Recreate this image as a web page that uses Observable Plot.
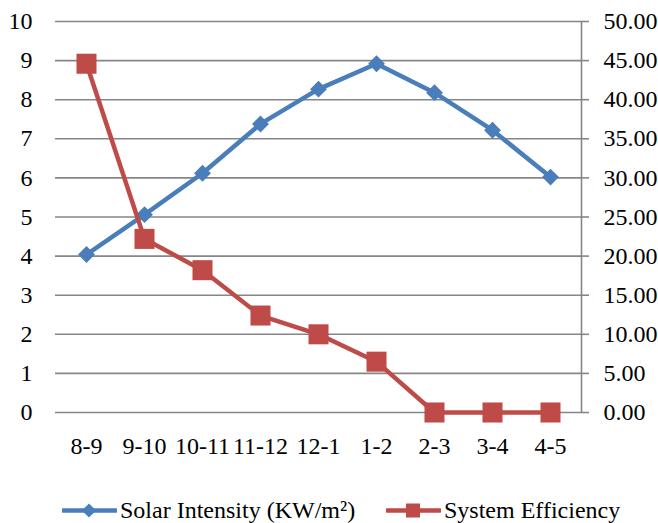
<!DOCTYPE html>
<html><head><meta charset="utf-8">
<script src="https://cdn.jsdelivr.net/npm/d3@7"></script>
<script src="https://cdn.jsdelivr.net/npm/@observablehq/plot@0.6"></script>
<style>
body{margin:0;background:#fff;font-family:"Liberation Serif","Times New Roman",serif;}
#wrap{position:relative;width:658px;height:523px;overflow:hidden;}
#legend{position:absolute;left:0;top:495px;width:658px;height:30px;font-size:24px;color:#000;}
.item{position:absolute;top:0;display:flex;align-items:center;height:30px;white-space:nowrap;}
.item svg{display:block;}
.item span{margin-left:3px;}
</style></head><body><div id="wrap"><div id="chart"></div><div id="legend"></div></div>
<script>
const hours = ["8-9", "9-10", "10-11", "11-12", "12-1", "1-2", "2-3", "3-4", "4-5"];
const solarIntensity = [4.04, 5.06, 6.12, 7.38, 8.27, 8.92, 8.18, 7.22, 6.02];
const systemEfficiency = [44.6, 22.2, 18.2, 12.4, 10.0, 6.5, 0, 0, 0];
const leftTicks = [0, 1, 2, 3, 4, 5, 6, 7, 8, 9, 10];
const rightTickLabels = ["0.00", "5.00", "10.00", "15.00", "20.00", "25.00", "30.00", "35.00", "40.00", "45.00", "50.00"];
const leftMax = 10, rightMax = 50;
const seriesNames = ["Solar Intensity (KW/m²)", "System Efficiency"];
const blue = "#4A7EBB", red = "#BE4B48", grid = "#868686";
const fontStack = '"Liberation Serif","Times New Roman",serif';

const data = hours.map((h, i) => ({hour: h, solar: solarIntensity[i], eff: systemEfficiency[i]}));
const effY = d => d.eff * leftMax / rightMax;

const chart = Plot.plot({
  width: 658, height: 470,
  marginLeft: 55, marginRight: 77, marginTop: 21, marginBottom: 58,
  style: {fontFamily: fontStack, fontSize: "24px", color: "#000", background: "#fff", overflow: "visible"},
  x: {type: "point", domain: hours, padding: 0.5, label: null},
  y: {domain: [0, leftMax], label: null},
  marks: [
    Plot.gridY(leftTicks, {stroke: grid, strokeOpacity: 1, strokeWidth: 1.6}),
    Plot.frame({anchor: "right", stroke: grid, strokeWidth: 1.6}),
    Plot.axisY(leftTicks, {anchor: "left", tickSize: 0, tickPadding: 23, tickFormat: d => String(d), label: null, fill: "#000"}),
    Plot.axisY(leftTicks, {anchor: "right", tickSize: 7, tickPadding: 15, stroke: grid, strokeWidth: 1.6, tickFormat: d => rightTickLabels[leftTicks.indexOf(d)], label: null, fill: "#000"}),
    Plot.axisX(hours, {tickSize: 0, tickPadding: 24, label: null, fill: "#000"}),
    Plot.line(data, {x: "hour", y: "solar", stroke: blue, strokeWidth: 4.5}),
    Plot.dot(data, {x: "hour", y: "solar", symbol: "diamond2", r: 7.6, fill: blue, stroke: "none"}),
    Plot.line(data, {x: "hour", y: effY, stroke: red, strokeWidth: 4.5}),
    Plot.dot(data, {x: "hour", y: effY, symbol: "square", r: 11.3, fill: red, stroke: "none"})
  ]
});
document.getElementById("chart").appendChild(chart);

const legend = document.getElementById("legend");
const items = [
  {name: seriesNames[0], color: blue, sym: "diamond", left: 62},
  {name: seriesNames[1], color: red, sym: "square", left: 386}
];
for (const it of items) {
  const div = document.createElement("div");
  div.className = "item";
  div.style.left = it.left + "px";
  const marker = it.sym === "diamond"
    ? `<rect x="22" y="8.5" width="10" height="10" transform="rotate(45 27 13.5)" fill="${it.color}"/>`
    : `<rect x="20" y="6.5" width="14" height="14" fill="${it.color}"/>`;
  div.innerHTML = `<svg width="55" height="27"><line x1="1" x2="54" y1="13.5" y2="13.5" stroke="${it.color}" stroke-width="4.5" stroke-linecap="round"/>${marker}</svg><span>${it.name}</span>`;
  legend.appendChild(div);
}
</script></body></html>
